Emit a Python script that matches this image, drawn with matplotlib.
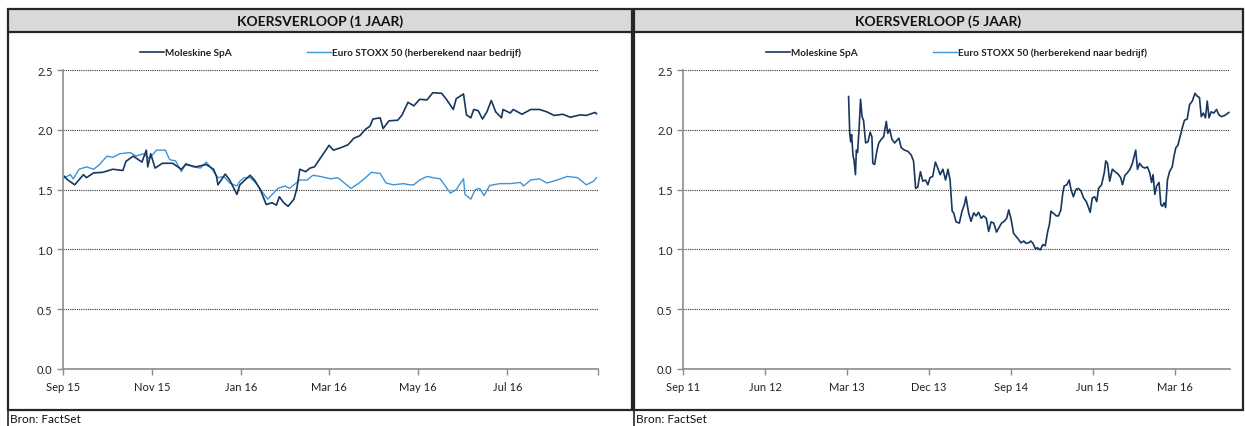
import numpy as np
import matplotlib
matplotlib.use("Agg")
import matplotlib.pyplot as plt
from matplotlib.patches import Rectangle
from matplotlib.lines import Line2D

plt.rcParams['font.family'] = ['Lato', 'DejaVu Sans']

# ---- data ----
# 1 year chart: days after 2015-09-02
start_1y = np.datetime64('2015-09-02')
mole_1y_day = [1, 3, 8, 14, 16, 21, 27, 34, 41, 43, 48, 54, 57, 58, 60, 63, 68, 75, 81, 84,
               91, 98, 103, 105, 106, 111, 114, 119, 121, 128, 131, 135, 139, 143, 146, 148, 151, 154, 158, 160,
               162, 166, 169, 172, 177, 182, 185, 190, 195, 199, 203, 207, 210, 212, 217, 219, 223, 229, 232, 236,
               240, 244, 249, 253, 259, 262, 267, 269, 274, 276, 279, 281, 284, 287, 290, 293, 296, 300, 301, 306,
               308, 314, 320, 326, 331, 336, 342, 347, 354, 358, 364, 365]
mole_1y_val = [1.61, 1.583, 1.54, 1.625, 1.60, 1.64, 1.644, 1.67, 1.66, 1.735, 1.78, 1.73, 1.83, 1.69, 1.80, 1.68, 1.72, 1.72, 1.67, 1.71,
               1.69, 1.71, 1.67, 1.61, 1.54, 1.63, 1.58, 1.46, 1.54, 1.62, 1.58, 1.50, 1.375, 1.39, 1.37, 1.44, 1.39, 1.36, 1.42, 1.51,
               1.67, 1.65, 1.68, 1.69, 1.78, 1.87, 1.83, 1.85, 1.875, 1.93, 1.95, 2.005, 2.03, 2.09, 2.10, 2.01, 2.075, 2.08, 2.125, 2.23,
               2.20, 2.255, 2.25, 2.31, 2.305, 2.26, 2.17, 2.26, 2.30, 2.125, 2.10, 2.17, 2.16, 2.09, 2.15, 2.245, 2.15, 2.10, 2.17, 2.14,
               2.17, 2.13, 2.17, 2.17, 2.15, 2.12, 2.13, 2.105, 2.125, 2.12, 2.145, 2.135]

stoxx_1y_day = [1, 5, 7, 11, 16, 21, 25, 30, 34, 39, 46, 50, 55, 59, 64, 70, 73, 77, 81, 84,
                89, 94, 98, 102, 106, 110, 114, 119, 121, 124, 128, 132, 137, 140, 144, 147, 152, 155, 159, 162,
                167, 171, 176, 183, 188, 193, 197, 202, 207, 211, 217, 221, 226, 233, 237, 240, 244, 249, 253, 258,
                261, 265, 269, 274, 275, 279, 282, 285, 288, 292, 299, 306, 313, 315, 320, 326, 331, 338, 345, 352,
                358, 363, 365]
stoxx_1y_val = [1.60, 1.625, 1.59, 1.67, 1.69, 1.67, 1.71, 1.78, 1.77, 1.80, 1.81, 1.78, 1.80, 1.76, 1.83, 1.83, 1.75, 1.74, 1.65, 1.72,
                1.69, 1.68, 1.73, 1.67, 1.60, 1.61, 1.555, 1.53, 1.57, 1.60, 1.60, 1.555, 1.47, 1.42, 1.47, 1.51, 1.53, 1.51, 1.55, 1.58,
                1.58, 1.62, 1.61, 1.59, 1.60, 1.55, 1.51, 1.55, 1.60, 1.645, 1.635, 1.555, 1.54, 1.55, 1.54, 1.54, 1.58, 1.61, 1.60, 1.59,
                1.54, 1.47, 1.50, 1.59, 1.46, 1.42, 1.50, 1.51, 1.45, 1.535, 1.55, 1.55, 1.56, 1.53, 1.58, 1.59, 1.555, 1.58, 1.61, 1.60,
                1.54, 1.57, 1.60]

# 5 year chart: days after 2011-09-02 (only Moleskine is drawn)
start_5y = np.datetime64('2011-09-02')
mole_5y_day = [553, 557, 560, 563, 568, 571, 576, 579, 583, 588, 593, 598, 603, 610, 618, 625, 631, 634, 640, 648,
               654, 662, 670, 679, 684, 690, 698, 707, 721, 729, 740, 751, 762, 770, 777, 784, 793, 801, 810, 818,
               825, 834, 843, 851, 859, 868, 877, 885, 892, 899, 904, 912, 923, 932, 940, 945, 954,
               962, 971, 979, 987, 996, 1004, 1013, 1021, 1029, 1038, 1047, 1055, 1064, 1073, 1081, 1088, 1096, 1104, 1112, 1120,
               1129, 1138, 1146, 1154, 1162, 1169, 1177, 1184, 1193, 1202, 1210, 1218, 1224, 1229, 1238, 1247, 1254, 1262, 1268, 1273,
               1282, 1290, 1296, 1304, 1312, 1320, 1329, 1338, 1347, 1353, 1360, 1367, 1375, 1382, 1388,
               1398, 1407, 1412, 1418, 1425, 1434, 1443, 1453, 1462, 1468, 1476, 1484, 1493, 1501, 1507, 1512, 1518, 1525, 1534, 1543,
               1551, 1559, 1565, 1570, 1576, 1582, 1590, 1596, 1601, 1607, 1612, 1618, 1625, 1634, 1640, 1646, 1653, 1660, 1668, 1675,
               1684, 1692, 1701, 1710, 1718, 1725, 1731, 1738, 1745, 1751, 1757, 1764, 1773, 1782, 1790, 1799, 1809, 1818, 1823]
mole_5y_val = [2.278, 1.97, 1.90, 1.96, 1.78, 1.75, 1.625, 1.83, 1.81, 2.0, 2.255, 2.11, 2.08, 1.89, 1.90, 1.98, 1.94, 1.72, 1.71, 1.83,
               1.89, 1.92, 1.94, 2.07, 1.97, 2.005, 1.92, 1.89, 1.93, 1.85, 1.83, 1.82, 1.79, 1.74, 1.51, 1.52, 1.65, 1.57, 1.58, 1.54,
               1.60, 1.61, 1.73, 1.68, 1.625, 1.67, 1.58, 1.67, 1.58, 1.32, 1.305, 1.23, 1.22, 1.32, 1.375, 1.44, 1.305,
               1.235, 1.305, 1.28, 1.31, 1.26, 1.28, 1.26, 1.15, 1.23, 1.22, 1.145, 1.18, 1.22, 1.235, 1.26, 1.33, 1.25, 1.135, 1.11, 1.085,
               1.055, 1.07, 1.05, 1.055, 1.07, 1.05, 1.005, 1.014, 0.995, 1.04, 1.03, 1.15, 1.21, 1.32, 1.30, 1.28, 1.28, 1.33, 1.46, 1.53,
               1.54, 1.58, 1.50, 1.44, 1.50, 1.51, 1.49, 1.43, 1.40, 1.36, 1.31, 1.43, 1.44, 1.40, 1.51,
               1.54, 1.64, 1.74, 1.72, 1.57, 1.67, 1.65, 1.63, 1.60, 1.54, 1.62, 1.64, 1.67, 1.72, 1.78, 1.83, 1.67, 1.72, 1.69, 1.68,
               1.69, 1.64, 1.56, 1.625, 1.46, 1.53, 1.56, 1.375, 1.36, 1.39, 1.35, 1.58, 1.65, 1.69, 1.78, 1.85, 1.87, 1.94, 2.02, 2.08,
               2.09, 2.21, 2.24, 2.305, 2.28, 2.27, 2.11, 2.14, 2.10, 2.24, 2.10, 2.15, 2.14, 2.17, 2.125, 2.11, 2.12, 2.135, 2.145]

ticks_1y = ['2015-09-02', '2015-11-02', '2016-01-02', '2016-03-02', '2016-05-02', '2016-07-02', '2016-09-02']
labels_1y = ['Sep 15', 'Nov 15', 'Jan 16', 'Mar 16', 'May 16', 'Jul 16', '']
ticks_5y = ['2011-09-02', '2012-06-02', '2013-03-02', '2013-12-02', '2014-09-02', '2015-06-02', '2016-03-02']
labels_5y = ['Sep 11', 'Jun 12', 'Mar 13', 'Dec 13', 'Sep 14', 'Jun 15', 'Mar 16']
yticks = [0.0, 0.5, 1.0, 1.5, 2.0, 2.5]

names = ['Moleskine SpA', 'Euro STOXX 50 (herberekend naar bedrijf)']
titles = ['KOERSVERLOOP (1 JAAR)', 'KOERSVERLOOP (5 JAAR)']
source = 'Bron: FactSet'

DARK = '#17375e'
LIGHT = '#3b95d6'
W, H = 1245, 427

fig = plt.figure(figsize=(W / 100, H / 100), dpi=100)


def fx(x):
    return x / W


def fy(y):
    return 1 - y / H


def frame(x0, x1, title):
    # header band and panel border
    fig.add_artist(Rectangle((fx(x0), fy(33)), fx(x1 - x0), (33 - 10) / H,
                             transform=fig.transFigure, facecolor='#d9d9d9',
                             edgecolor='none', zorder=0))
    fig.add_artist(Rectangle((fx(x0), fy(411)), fx(x1 - x0), (411 - 10) / H,
                             transform=fig.transFigure, facecolor='none',
                             edgecolor='#262626', linewidth=1.6, zorder=5))
    fig.add_artist(Line2D([fx(x0), fx(x1)], [fy(33), fy(33)], transform=fig.transFigure,
                          color='#262626', linewidth=1.6, zorder=5))
    fig.add_artist(Line2D([fx(x0), fx(x0)], [fy(411), 0], transform=fig.transFigure,
                          color='#262626', linewidth=1.2, zorder=5))
    fig.text(fx((x0 + x1) / 2), fy(22), title, ha='center', va='center',
             fontsize=10, fontweight='bold', color='#111111')
    fig.text(fx(x0 + 2), fy(420), source, ha='left', va='center',
             fontsize=8.5, color='#111111')


def style_axes(ax, ticks, labels, xlim, handles):
    ax.set_ylim(0, 2.5)
    ax.set_yticks(yticks)
    ax.set_yticklabels([f'{v:.1f}' for v in yticks])
    ax.set_xlim(np.datetime64(xlim[0]), np.datetime64(xlim[1]))
    ax.set_xticks([np.datetime64(t) for t in ticks])
    ax.set_xticklabels(labels)
    for s in ['top', 'right']:
        ax.spines[s].set_visible(False)
    for s in ['left', 'bottom']:
        ax.spines[s].set_color('#8c8c8c')
        ax.spines[s].set_linewidth(1.2)
        ax.spines[s].set_zorder(4)
    ax.yaxis.grid(True, color='#333333', linestyle=(0, (1, 1)), linewidth=0.8)
    ax.set_axisbelow(True)
    ax.tick_params(axis='both', colors='#8c8c8c', labelcolor='#222222',
                   labelsize=8, length=4, width=1)
    ax.tick_params(axis='x', pad=5)
    leg = ax.legend(handles=handles, loc='lower center', bbox_to_anchor=(0.5, 1.03),
                    ncol=2, frameon=False, handlelength=2.4, handletextpad=0.1,
                    columnspacing=7.5, borderaxespad=0,
                    prop={'size': 7.2, 'weight': 'bold'})
    for t in leg.get_texts():
        t.set_color('#222222')


frame(8, 632, titles[0])
frame(634, 1243, titles[1])

# 1 year chart
ax1 = fig.add_axes([fx(63), fy(370), fx(598 - 63), (370 - 71) / H])
d1 = start_1y + np.array(stoxx_1y_day, dtype='timedelta64[D]')
d2 = start_1y + np.array(mole_1y_day, dtype='timedelta64[D]')
l_light, = ax1.plot(d1, stoxx_1y_val, color=LIGHT, linewidth=1.0, zorder=2, label=names[1])
l_dark, = ax1.plot(d2, mole_1y_val, color=DARK, linewidth=1.2, zorder=3, label=names[0])
style_axes(ax1, ticks_1y, labels_1y, ('2015-09-02', '2016-09-02'), [l_dark, l_light])

# 5 year chart
ax2 = fig.add_axes([fx(683), fy(370), fx(1230 - 683), (370 - 71) / H])
d5 = start_5y + np.array(mole_5y_day, dtype='timedelta64[D]')
m_dark, = ax2.plot(d5, mole_5y_val, color=DARK, linewidth=1.2, label=names[0])
m_light, = ax2.plot([], [], color=LIGHT, linewidth=1.0, label=names[1])
style_axes(ax2, ticks_5y, labels_5y, ('2011-09-02', '2016-09-02'), [m_dark, m_light])

fig.savefig('out.png', dpi=100)
